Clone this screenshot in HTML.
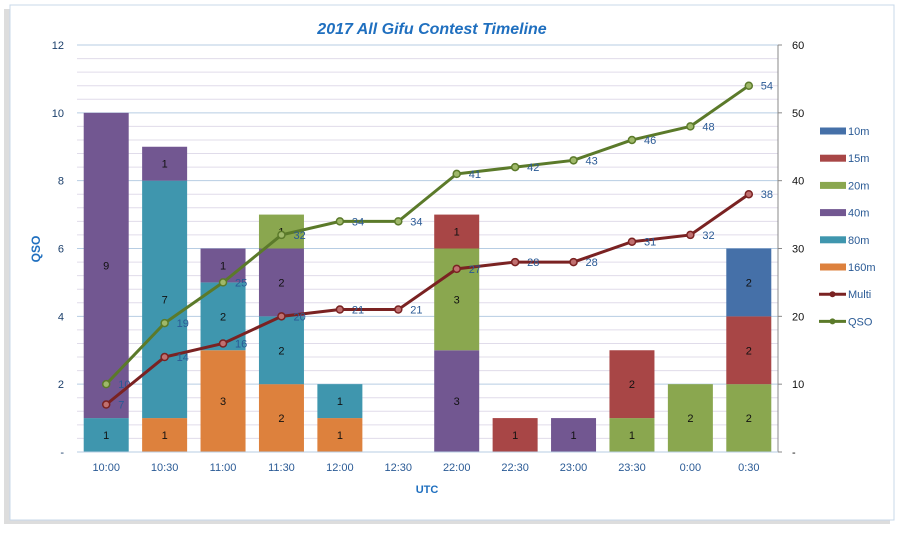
<!DOCTYPE html>
<html><head><meta charset="utf-8"><style>
body{margin:0;background:#fff;font-family:"Liberation Sans",sans-serif}
svg text{font-family:"Liberation Sans",sans-serif}
</style></head><body>
<svg id="c" width="900" height="530" xmlns="http://www.w3.org/2000/svg">
<rect x="4" y="9" width="886" height="515" fill="#bbb" opacity="0.5"/>
<rect x="10" y="5" width="884" height="515" fill="#fff" stroke="#c8d8ea"/>
<text x="432" y="34" text-anchor="middle" font-size="16" font-weight="bold" font-style="italic" fill="#1f6fbf">2017 All Gifu Contest Timeline</text>
<g id="grid"></g><g id="bars"></g><g id="lines"></g><g id="axes"></g><g id="legend"></g>
</svg>
<script>
const categories=["10:00","10:30","11:00","11:30","12:00","12:30","22:00","22:30","23:00","23:30","0:00","0:30"];
const band160=[0,1,3,2,1,0,0,0,0,0,0,0];
const band80=[1,7,2,2,1,0,0,0,0,0,0,0];
const band40=[9,1,1,2,0,0,3,0,1,0,0,0];
const band20=[0,0,0,1,0,0,3,0,0,1,2,2];
const band15=[0,0,0,0,0,0,1,1,0,2,0,2];
const band10=[0,0,0,0,0,0,0,0,0,0,0,2];
const multi=[7,14,16,20,21,21,27,28,28,31,32,38];
const qso=[10,19,25,32,34,34,41,42,43,46,48,54];
const leftTicks=["-","2","4","6","8","10","12"];
const rightTicks=["-","10","20","30","40","50","60"];
const NS="http://www.w3.org/2000/svg";
const L=77,R=778,T=45,B=452,step=(R-L)/categories.length,bw=45;
const x=i=>L+step*(i+0.5), yL=v=>B-(B-T)*v/12, yR=v=>B-(B-T)*v/60;
function mk(p,tag,a,t){const e=document.createElementNS(NS,tag);for(const k in a)e.setAttribute(k,a[k]);if(t!==undefined)e.textContent=t;document.getElementById(p).appendChild(e);return e;}
for(let k=0;k<=30;k++){const v=k*0.4,yy=yL(v);const e=mk("grid","line",{x1:L,x2:R,y1:yy,y2:yy,stroke:k%5==0?"#b7cde3":"#e0dcea","stroke-width":1});

}
const series=[["160m",band160,"#dd813d"],["80m",band80,"#3f96ae"],["40m",band40,"#725791"],["20m",band20,"#8aa74f"],["15m",band15,"#a84646"],["10m",band10,"#4570a8"]];
categories.forEach((c,i)=>{let acc=0;series.forEach(([n,d,col])=>{const v=d[i];if(!v)return;const y1=yL(acc+v),y0=yL(acc);
const r=mk("bars","rect",{x:x(i)-bw/2,y:y1,width:bw,height:y0-y1,fill:col});


const t=mk("bars","text",{x:x(i),y:(y0+y1)/2+4,"text-anchor":"middle","font-size":11,fill:"#111"},v);


acc+=v;});});
[[qso,"#5b7a2a","#9fb86a","qso"],[multi,"#7a2222","#c07070","multi"]].forEach(([d,col,fc,n])=>{
const p=mk("lines","polyline",{points:d.map((v,i)=>x(i)+","+yR(v)).join(" "),fill:"none",stroke:col,"stroke-width":3});


d.forEach((v,i)=>{const c=mk("lines","circle",{cx:x(i),cy:yR(v),r:3.5,fill:fc,stroke:col,"stroke-width":1.5});


const t=mk("lines","text",{x:x(i)+12,y:yR(v)+4,"font-size":11,fill:"#2a5a95"},v);

});});
const ax=mk("axes","line",{x1:R,x2:R,y1:T,y2:B,stroke:"#888"});


const bx=mk("axes","line",{x1:L,x2:R,y1:B,y2:B,stroke:"#b7cde3"});


leftTicks.forEach((s,k)=>{const t=mk("axes","text",{x:64,y:yL(k*2)+4,"text-anchor":"end","font-size":11,fill:"#1b3f6b"},s);

});
rightTicks.forEach((s,k)=>{const t=mk("axes","text",{x:792,y:yR(k*10)+4,"font-size":11,fill:"#111"},s);


const tk=mk("axes","line",{x1:R,x2:R+4,y1:yR(k*10),y2:yR(k*10),stroke:"#888"});

});
categories.forEach((c,i)=>{const t=mk("axes","text",{x:x(i),y:471,"text-anchor":"middle","font-size":11,fill:"#2a5a95"},c);

});
const xt=mk("axes","text",{x:427,y:493,"text-anchor":"middle","font-size":11,"font-weight":"bold",fill:"#1f6fbf"},"UTC");


const yt=mk("axes","text",{x:40,y:249,"text-anchor":"middle","font-size":12,"font-weight":"bold",fill:"#1f6fbf",transform:"rotate(-90 40 249)"},"QSO");


const leg=[["10m","#4570a8",0],["15m","#a84646",0],["20m","#8aa74f",0],["40m","#725791",0],["80m","#3f96ae",0],["160m","#dd813d",0],["Multi","#7a2222",1],["QSO","#5b7a2a",1]];
leg.forEach(([n,col,ln],k)=>{const yy=131+k*27.2;
if(ln){const l=mk("legend","line",{x1:819,x2:846,y1:yy,y2:yy,stroke:col,"stroke-width":3});
const c=mk("legend","circle",{cx:832.5,cy:yy,r:3,fill:col});}
else{const r=mk("legend","rect",{x:820,y:yy-3.5,width:26,height:7,fill:col});}
const t=mk("legend","text",{x:848,y:yy+4,"font-size":11,fill:"#2a5a95"},n);

});
</script>
</body></html>
